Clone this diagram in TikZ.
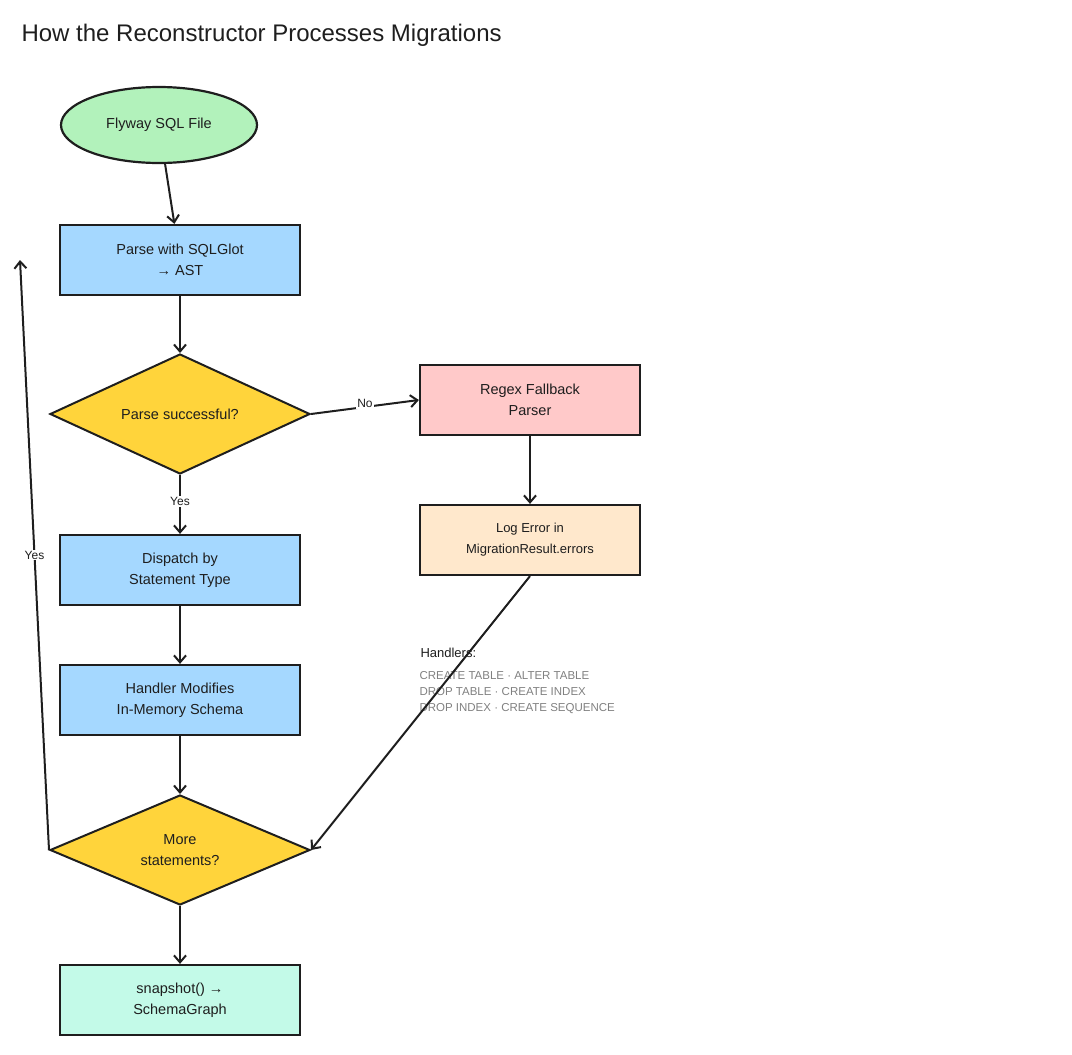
\documentclass[tikz,border=0pt]{standalone}
\usepackage{fontspec}
\setmainfont{Liberation Sans}
\usetikzlibrary{shapes.geometric,arrows.meta}
\definecolor{cgreen}{HTML}{B2F2BB}
\definecolor{cblue}{HTML}{A5D8FF}
\definecolor{cyel}{HTML}{FFD43B}
\definecolor{cred}{HTML}{FFC9C9}
\definecolor{corange}{HTML}{FFE8CC}
\definecolor{cteal}{HTML}{C3FAE8}
\definecolor{ink}{HTML}{1E1E1E}
\tikzset{
  x=1pt,y=-1pt,
  every node/.style={font=\fontsize{14.5}{21}\selectfont,text=ink,align=center},
  box/.style={draw=ink,line width=2.2pt,minimum width=240pt,minimum height=70pt,inner sep=2pt},
  dia/.style={diamond,draw=ink,line width=2pt,aspect=2.2,inner sep=0pt},
  arr/.style={draw=ink,line width=2pt,-{Straight Barb[length=7pt,width=12pt]}},
  lbl/.style={font=\fontsize{12}{14}\selectfont,fill=white,inner sep=1pt},
  hand/.style={font=\fontsize{11.5}{16}\selectfont,text=gray,align=left,anchor=north west}
}
\begin{document}
\begin{tikzpicture}
\useasboundingbox (0,0) rectangle (1072,1055);
\node[anchor=west,font=\fontsize{24}{28}\selectfont] (title) at (18,35) {How the Reconstructor Processes Migrations};
\node[ellipse,draw=ink,line width=2.2pt,fill=cgreen,minimum width=196pt,minimum height=76pt] (src) at (159,125) {Flyway SQL File};
\node[box,fill=cblue] (parse) at (180,260) {Parse with SQLGlot\\→ AST};
\node[dia,fill=cyel,minimum width=260pt,minimum height=120pt] (ok) at (180,414) {Parse successful?};
\node[box,fill=cred,minimum width=220pt] (regex) at (530,400) {Regex Fallback\\Parser};
\node[box,fill=corange,minimum width=220pt] (log) at (530,540) {\fontsize{13}{21}\selectfont Log Error in\\\fontsize{13}{21}\selectfont MigrationResult.errors};
\node[box,fill=cblue] (disp) at (180,570) {Dispatch by\\Statement Type};
\node[box,fill=cblue] (hand) at (180,700) {Handler Modifies\\In-Memory Schema};
\node[dia,fill=cyel,minimum width=260pt,minimum height=110pt] (more) at (180,850) {More\\statements?};
\node[box,fill=cteal] (snap) at (180,1000) {snapshot() →\\SchemaGraph};
\node[anchor=west,font=\fontsize{13}{15}\selectfont] (hdr) at (417,653) {Handlers:};
\node[hand] (hl) at (416,668) {CREATE TABLE · ALTER TABLE\\DROP TABLE · CREATE INDEX\\DROP INDEX · CREATE SEQUENCE};
\coordinate (up) at (20,260);
\draw[arr] (src) -- (parse);
\draw[arr] (parse) -- (ok);
\draw[arr] (ok.east) -- node[lbl,pos=0.5,above=-3pt] {No} (regex.west);
\draw[arr] (regex) -- (log);
\draw[arr] (ok.south) -- node[lbl,pos=0.45] {Yes} (disp.north);
\draw[arr] (disp) -- (hand);
\draw[arr] (hand) -- (more);
\draw[arr] (log.south) -- (more.east);
\draw[arr] (more.west) -- node[lbl,pos=0.5] {Yes} (up);
\draw[arr] (more) -- (snap);
\end{tikzpicture}
\end{document}
